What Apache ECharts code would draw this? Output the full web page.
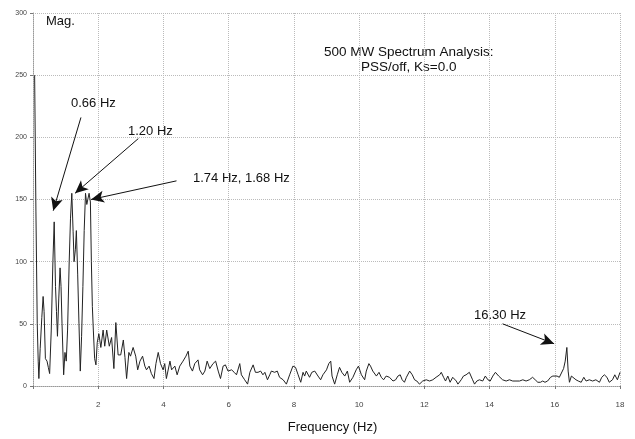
<!DOCTYPE html>
<html>
<head>
<meta charset="utf-8">
<script src="https://cdn.jsdelivr.net/npm/echarts@6/dist/echarts.min.js"></script>
<style>
  html, body { margin: 0; padding: 0; background: #fff; }
  #chart { width: 635px; height: 439px; }
</style>
</head>
<body>
<div id="chart"></div>
<script>
// spectrum: frequency (Hz) and magnitude
const freq = [
  0.05, 0.09, 0.13, 0.16, 0.18, 0.22, 0.27, 0.31, 0.34, 0.38, 0.43, 0.47, 0.51, 0.56, 0.61, 0.65,
  0.69, 0.72, 0.75, 0.79, 0.83, 0.86, 0.89, 0.94, 0.98, 1.02, 1.06, 1.11, 1.15, 1.19, 1.23, 1.26,
  1.30, 1.33, 1.37, 1.41, 1.45, 1.49, 1.53, 1.57, 1.61, 1.65, 1.68, 1.72, 1.76, 1.79, 1.82, 1.85,
  1.89, 1.93, 1.97, 2.02, 2.08, 2.15, 2.2, 2.26, 2.34, 2.41, 2.48, 2.54, 2.61, 2.69, 2.77, 2.82,
  2.87, 2.94, 2.99, 3.07, 3.15, 3.21, 3.28, 3.36, 3.43, 3.48, 3.56, 3.63, 3.71, 3.77, 3.84, 3.91,
  3.99, 4.04, 4.09, 4.2, 4.25, 4.35, 4.42, 4.5, 4.6, 4.69, 4.76, 4.81, 4.89, 4.96, 5.06, 5.11,
  5.2, 5.27, 5.34, 5.42, 5.52, 5.6, 5.68, 5.75, 5.83, 5.9, 5.98, 6.09, 6.17, 6.24, 6.34, 6.39,
  6.49, 6.58, 6.65, 6.75, 6.82, 6.9, 6.98, 7.05, 7.11, 7.19, 7.26, 7.31, 7.41, 7.49, 7.56, 7.67,
  7.77, 7.87, 7.97, 8.05, 8.13, 8.21, 8.28, 8.33, 8.38, 8.48, 8.55, 8.64, 8.74, 8.82, 8.89, 9.0,
  9.07, 9.13, 9.17, 9.25, 9.33, 9.4, 9.47, 9.56, 9.64, 9.71, 9.81, 9.91, 9.98, 10.07, 10.17, 10.22,
  10.3, 10.35, 10.42, 10.47, 10.53, 10.61, 10.68, 10.75, 10.83, 10.93, 11.04, 11.12, 11.19, 11.26, 11.32, 11.39,
  11.45, 11.55, 11.63, 11.7, 11.77, 11.85, 11.95, 12.06, 12.16, 12.26, 12.36, 12.47, 12.52, 12.59, 12.65, 12.72,
  12.79, 12.87, 12.98, 13.03, 13.13, 13.2, 13.28, 13.38, 13.43, 13.48, 13.54, 13.61, 13.69, 13.79, 13.87, 13.95,
  14.02, 14.1, 14.18, 14.28, 14.4, 14.51, 14.61, 14.71, 14.81, 14.92, 15.02, 15.12, 15.22, 15.32, 15.4, 15.48,
  15.56, 15.63, 15.7, 15.78, 15.87, 15.94, 15.99, 16.07, 16.14, 16.19, 16.27, 16.32, 16.37, 16.41, 16.45, 16.51,
  16.57, 16.65, 16.72, 16.81, 16.89, 16.96, 17.06, 17.16, 17.26, 17.37, 17.44, 17.52, 17.6, 17.67, 17.77, 17.84,
  17.92, 18.0
];
const mag = [
  250, 140, 50, 20, 6, 30, 55, 72, 60, 22, 20, 15, 10, 45, 100, 132,
  80, 60, 40, 70, 95, 80, 50, 9, 27, 20, 45, 100, 135, 155, 124, 100,
  110, 125, 90, 50, 12, 40, 80, 125, 155, 146, 150, 155, 148, 100, 64, 45,
  22, 17, 35, 42, 31, 45, 32, 45, 32, 39, 14, 51, 25, 25, 37, 23,
  6, 27, 24, 31, 24, 13, 20, 24, 16, 13, 16, 10, 6, 18, 27, 18,
  13, 18, 6, 20, 13, 16, 9, 16, 20, 24, 28, 16, 12, 18, 21, 13,
  9, 12, 20, 14, 18, 20, 12, 6, 16, 17, 12, 13, 11, 9, 18, 9,
  5, 1.5, 11, 17, 11, 11, 12, 9, 11, 5, 9, 12, 11, 12, 7, 5,
  1.5, 9, 16, 15, 9, 3, 11, 8, 12, 7, 11, 12, 8, 5, 9, 13,
  18, 20, 8, 1.5, 9, 15, 11, 8, 12, 3, 7, 13, 16, 9, 5, 12,
  18, 16, 12, 11, 8, 11, 7, 5, 8, 7, 4, 5, 8, 9, 5, 3,
  7, 12, 9, 5, 4, 1.5, 4, 5, 4, 5, 7, 9, 11, 7, 4, 8,
  3, 7, 4, 1.5, 5, 8, 9, 11, 12, 5, 1.5, 4, 5, 4, 8, 5,
  4, 8, 11, 8, 5, 4, 5, 4, 4, 4, 5, 4, 5, 7, 5, 3,
  3, 4, 3, 4, 7, 8, 7, 8, 7, 8, 14, 20, 31, 12, 3, 8,
  9, 5, 4, 3, 7, 4, 5, 4, 5, 3, 7, 9, 7, 3, 5, 9,
  5, 11
];

const xTicks = [0, 2, 4, 6, 8, 10, 12, 14, 16, 18];
const yTicks = [0, 50, 100, 150, 200, 250, 300];

// annotation arrows: [fromFreq, fromMag, toFreq, toMag]
const arrows = [
  [1.47, 216, 0.62, 141],
  [3.23, 199, 1.29, 155],
  [4.40, 165, 1.78, 150],
  [14.40, 50, 15.98, 34]
];
const notes = [
  { text: '0.66 Hz', left: 71, top: 97 },
  { text: '1.20 Hz', left: 128, top: 125 },
  { text: '1.74 Hz, 1.68 Hz', left: 193, top: 172 },
  { text: '16.30 Hz', left: 474, top: 309 }
];

const chart = echarts.init(document.getElementById('chart'));
const font = 'Liberation Sans, Arial, sans-serif';

chart.setOption({
  animation: false,
  backgroundColor: '#fff',
  grid: { left: 33, right: 15, top: 13, bottom: 44 },
  xAxis: {
    type: 'value',
    min: xTicks[0],
    max: xTicks[xTicks.length - 1],
    interval: 2,
    name: 'Frequency (Hz)',
    nameLocation: 'middle',
    nameGap: 35,
    nameTextStyle: { fontFamily: font, fontSize: 13, color: '#111', padding: [0, 0, 0, 12] },
    axisLine: { show: true, lineStyle: { color: '#999', type: 'dotted' } },
    axisTick: { show: true, length: 3, lineStyle: { color: '#777' } },
    axisLabel: {
      fontFamily: font, fontSize: 8, color: '#444', margin: 15,
      formatter: v => (v === 0 ? '' : String(v))
    },
    splitLine: { show: true, lineStyle: { color: '#bbb', type: 'dotted', width: 1 } }
  },
  yAxis: {
    type: 'value',
    min: yTicks[0],
    max: yTicks[yTicks.length - 1],
    interval: 50,
    axisLine: { show: true, lineStyle: { color: '#999', type: 'dotted' } },
    axisTick: { show: true, length: 3, lineStyle: { color: '#777' } },
    axisLabel: { fontFamily: font, fontSize: 7, color: '#444', margin: 6 },
    splitLine: { show: true, lineStyle: { color: '#bbb', type: 'dotted', width: 1 } }
  },
  series: [
    {
      type: 'line',
      data: freq.map((f, i) => [f, mag[i]]),
      showSymbol: false,
      smooth: false,
      lineStyle: { color: '#222', width: 1 },
      markLine: {
        silent: true,
        symbol: ['none', 'arrow'],
        symbolSize: [9, 13],
        label: { show: false },
        lineStyle: { color: '#111', width: 1, type: 'solid' },
        data: arrows.map(a => [{ coord: [a[0], a[1]] }, { coord: [a[2], a[3]] }])
      }
    }
  ],
  graphic: [
    {
      type: 'text', left: 46, top: 15,
      style: { text: 'Mag.', font: '13px ' + font, fill: '#111' }
    },
    {
      type: 'text', left: 324, top: 45,
      style: {
        text: '500 MW Spectrum Analysis:\nPSS/off, Ks=0.0',
        font: '13.5px ' + font, fill: '#111', textAlign: 'center', lineHeight: 15
      }
    }
  ].concat(notes.map(n => ({
    type: 'text', left: n.left, top: n.top,
    style: { text: n.text, font: '13px ' + font, fill: '#111' }
  })))
});
</script>
</body>
</html>
